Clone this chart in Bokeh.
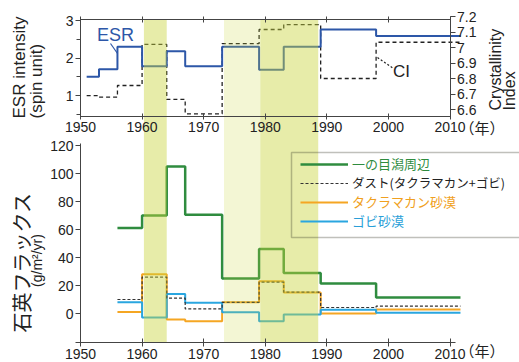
from math import pi
from bokeh.plotting import figure
from bokeh.models import (Range1d, LinearAxis, FixedTicker, BoxAnnotation, Label, Legend,
                          LegendItem, CustomJSTickFormatter, Arrow)
from bokeh.embed import file_html
from bokeh.resources import INLINE

# ---------------- data ----------------
year_ticks = [1950, 1960, 1970, 1980, 1990, 2000, 2010]
esr_ticks = [1, 2, 3]
esr_minor_ticks = [0.5, 1.5, 2.5]
ci_ticks = [6.6, 6.7, 6.8, 6.9, 7.0, 7.1, 7.2]
flux_ticks = [0, 20, 40, 60, 80, 100, 120]

# ESR intensity (spin unit) and Crystallinity Index, step series (edges in years)
esr_years = [1951, 1953, 1956, 1960, 1964, 1967, 1973, 1979, 1983, 1989, 1998, 2011.7]
esr_values = [1.5, 1.7, 2.3, 1.78, 2.18, 1.78, 2.3, 1.69, 2.3, 2.76, 2.59]
ci_years = [1951, 1953, 1956, 1960, 1964, 1967, 1973, 1979, 1983, 1989, 1998, 2011.7]
ci_values = [6.69, 6.68, 6.755, 7.02, 6.665, 6.572, 7.025, 7.116, 7.148, 6.80, 7.034]

# quartz flux (g/m2/yr)
flux_years = [1956, 1960, 1964, 1967, 1973, 1979, 1983, 1989, 1998, 2011.7]
ichinomegata = [61, 70, 105, 70.5, 25, 46, 29, 21.5, 11.5]
dust = [10, 26, 11, 3.3, 8, 22.4, 15.2, 4.3, 5.2]
taklimakan = [1, 28, -4.3, -5.5, 8, 23, 15, 0, 2.9]
gobi = [8, -2.9, 14, 7.6, 0.9, -5.5, -0.7, 2.6, 0.5]

series_names = ["一の目潟周辺", "ダスト(タクラマカン+ゴビ)", "タクラマカン砂漠", "ゴビ砂漠"]

# highlighted periods
band_start = [1960.3, 1973.3, 1979.2]
band_end = [1964.0, 1979.2, 1988.6]

# ---------------- styles / layout ----------------
band_alpha = [0.44, 0.22, 0.44]
BAND_C = "#c8d43c"
ESR_C = "#2d57a8"
GREEN = "#2f8c3f"
ORANGE = "#f5a623"
BLUE = "#2aa6e0"
DUST_C = "#333333"
AX = "#444444"
TXT = "#222222"
NUM_FONT = "Liberation Sans"
JP_FONT = "Noto Sans CJK JP"

W, H = 519, 362
PPY = (449.5 - 80) / 60.0            # px per year, 1950 at px 80


def xd(px):      # page px -> year
    return 1950 + (px - 80) / PPY


def fy(py):      # page px -> flux value (0 at 313, 120 at 145)
    return 120 - (py - 145) / 1.4


def ey(py):      # page px -> ESR value (3 at 20, 1 at 95)
    return 3 - (py - 20) / 37.5


def cy(py):      # page px -> CI value (7.2 at 16, 6.6 at 109)
    return 7.2 - (py - 16) / 155.0


def style_axis(ax, tin, tout, fs="14px"):
    ax.axis_line_color = AX
    ax.major_tick_line_color = AX
    ax.minor_tick_line_color = AX
    ax.major_tick_in = tin
    ax.major_tick_out = tout
    ax.minor_tick_in = 0
    ax.minor_tick_out = 0
    ax.major_label_text_font = NUM_FONT
    ax.major_label_text_font_size = fs
    ax.major_label_text_color = TXT
    ax.major_label_standoff = 2


def ext(v):
    return list(v) + [v[-1]]


p = figure(width=W, height=H, x_range=Range1d(xd(0), xd(W)), y_range=Range1d(fy(H), fy(0)),
           x_axis_location=None, y_axis_location=None, min_border=0,
           output_backend="svg", toolbar_location=None)
p.extra_y_ranges = {"esr": Range1d(ey(H), ey(0)), "ci": Range1d(cy(H), cy(0))}
p.xgrid.visible = False
p.ygrid.visible = False
p.outline_line_color = None
p.background_fill_color = "white"
p.border_fill_color = "white"

# ---------- axes (all fixed in place) ----------
esr_axis = LinearAxis(y_range_name="esr", fixed_location=1950, bounds=(ey(116), ey(19)),
                      ticker=FixedTicker(ticks=esr_ticks, minor_ticks=esr_minor_ticks))
style_axis(esr_axis, 0, 5)
esr_axis.minor_tick_out = 4
p.add_layout(esr_axis, "left")

ci_axis = LinearAxis(y_range_name="ci", fixed_location=2010, bounds=(cy(116), 7.2),
                     ticker=FixedTicker(ticks=ci_ticks),
                     formatter=CustomJSTickFormatter(code="return (Math.round(tick*10)/10).toString();"))
style_axis(ci_axis, 0, 5)
p.add_layout(ci_axis, "right")

top_axis = LinearAxis(fixed_location=fy(19), bounds=(1950, 2010), ticker=FixedTicker(ticks=year_ticks))
style_axis(top_axis, 3, 3)
top_axis.major_label_text_color = None
p.add_layout(top_axis, "above")

mid_axis = LinearAxis(fixed_location=fy(116), bounds=(1950, 2010), ticker=FixedTicker(ticks=year_ticks))
style_axis(mid_axis, 3, 3)
p.add_layout(mid_axis, "below")

flux_axis = LinearAxis(fixed_location=1950, bounds=(fy(342), fy(143)), ticker=FixedTicker(ticks=flux_ticks))
style_axis(flux_axis, 0, 5)
p.add_layout(flux_axis, "left")

bot_axis = LinearAxis(fixed_location=fy(342), bounds=(xd(75), xd(455)), ticker=FixedTicker(ticks=year_ticks))
style_axis(bot_axis, 4, 4)
p.add_layout(bot_axis, "below")

# ---------- series ----------
p.step(ci_years, ext(ci_values), mode="after", y_range_name="ci",
       line_color=TXT, line_width=1.3, line_dash="4 3")
p.step(esr_years, ext(esr_values), mode="after", y_range_name="esr", line_color=ESR_C, line_width=2)

r_ta = p.step(flux_years, ext(taklimakan), mode="after", line_color=ORANGE, line_width=2)
r_go = p.step(flux_years, ext(gobi), mode="after", line_color=BLUE, line_width=2)
r_ic = p.step(flux_years, ext(ichinomegata), mode="after", line_color=GREEN, line_width=2.5)
r_du = p.step(flux_years, ext(dust), mode="after", line_color=DUST_C, line_width=1.2, line_dash="3 2")

# ---------- highlighted periods ----------
for s, e, a in zip(band_start, band_end, band_alpha):
    p.add_layout(BoxAnnotation(left=s, right=e, top=fy(19), bottom=fy(342), fill_color=BAND_C,
                               fill_alpha=a, line_color=None, level="glyph"))

# ---------- labels ----------
p.add_layout(Label(x=xd(115), y=ey(34.5), y_range_name="esr", text="ESR", text_align="center",
                   text_baseline="middle", text_color=ESR_C, text_font=NUM_FONT, text_font_size="18px"))
p.add_layout(Arrow(end=None, x_start=xd(110), y_start=ey(43), x_end=xd(117), y_end=ey(53),
                   y_range_name="esr", line_color=ESR_C, line_width=1.2))
p.add_layout(Label(x=xd(401), y=cy(71), y_range_name="ci", text="CI", text_align="center",
                   text_baseline="middle", text_color=TXT, text_font=NUM_FONT, text_font_size="17px"))
p.add_layout(Arrow(end=None, x_start=xd(377), y_start=cy(57), x_end=xd(393), y_end=cy(68),
                   y_range_name="ci", line_color=TXT, line_width=1.2, line_dash="2 2"))

for px, txt in [(19, "ESR intensity"), (36, "(spin unit)")]:
    p.add_layout(Label(x=xd(px), y=ey(118), y_range_name="esr", text=txt, angle=pi / 2,
                       text_align="left", text_baseline="middle", text_color=TXT,
                       text_font=NUM_FONT, text_font_size="17px"))
for px, txt in [(495, "Crystallinity"), (509, "Index")]:
    p.add_layout(Label(x=xd(px), y=ey(110), y_range_name="esr", text=txt, angle=pi / 2,
                       text_align="left", text_baseline="middle", text_color=TXT,
                       text_font=NUM_FONT, text_font_size="16px"))
for py in (127, 350):
    p.add_layout(Label(x=xd(459), y=fy(py), text="（年）", text_align="left", text_baseline="middle",
                       text_color=TXT, text_font=JP_FONT, text_font_size="15px"))

p.add_layout(Label(x=xd(21), y=fy(262), text="石英フラックス", angle=pi / 2, text_align="center",
                   text_baseline="middle", text_color=TXT, text_font=JP_FONT, text_font_size="20px"))
p.add_layout(Label(x=xd(36), y=fy(260), text="(g/m²/yr)", angle=pi / 2, text_align="center",
                   text_baseline="middle", text_color=TXT, text_font=NUM_FONT, text_font_size="14px"))

# ---------- legend ----------
p.add_layout(BoxAnnotation(left=xd(291), right=xd(540), top=fy(152), bottom=fy(237),
                           fill_alpha=0, line_color="#2e2e1e", line_width=1.5))

leg_rows = [166, 185, 204, 223]
leg_colors = [GREEN, TXT, "#f0a020", "#2a9fd8"]
leg_sizes = ["13px", "12.5px", "13px", "13px"]
for rend, name, yc, col, fs in zip([r_ic, r_du, r_ta, r_go], series_names, leg_rows, leg_colors, leg_sizes):
    leg = Legend(items=[LegendItem(label=name, renderers=[rend])],
                 location=(300, H - yc - 7), padding=0, margin=0, spacing=0,
                 glyph_width=48, glyph_height=14, label_height=14, label_standoff=4,
                 label_text_font=JP_FONT, label_text_font_size=fs, label_text_color=col,
                 border_line_color=None, background_fill_alpha=0)
    p.add_layout(leg)

open("out.html", "w").write(file_html(p, INLINE))
